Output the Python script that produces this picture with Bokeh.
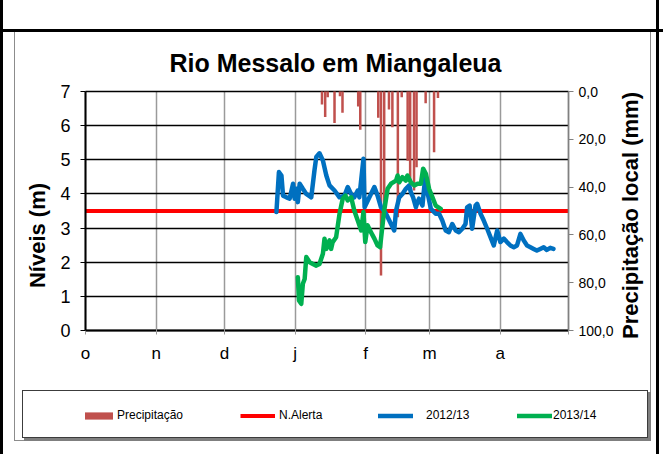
import math
from bokeh.plotting import figure
from bokeh.models import (Range1d, LinearAxis, FixedTicker, Legend, LegendItem, Label,
                          Grid)
from bokeh.embed import file_html
from bokeh.resources import INLINE

# ---------------- data ----------------
month_labels = ["o", "n", "d", "j", "f", "m", "a", ""]
month_start_days = [0, 31, 61, 92, 123, 151, 182, 212]   # days since 1 Oct
season_days = 212
alert_level = 3.5

blue_days = [83.8, 84.9, 86.0, 86.7, 88.2, 89.6, 91.1, 91.8, 92.5, 93.2, 94.0, 95.4,
             96.9, 99.1, 100.5, 101.3, 102.7, 104.2, 105.7, 107.1, 109.3, 111.5, 113.7,
             115.1, 116.6, 118.0, 119.5, 120.2, 122.0, 122.5, 124.6, 126.8, 128.2, 129.7,
             131.9, 134.1, 135.5, 136.3, 137.7, 139.1, 140.6, 142.1, 142.8, 143.8, 145.0,
             145.7, 146.4, 147.9, 149.1, 150.1, 151.6, 153.7, 155.2, 156.6, 158.1, 159.5,
             161.0, 162.5, 163.9, 165.4, 166.8, 167.5, 168.6, 169.7, 171.2, 171.9, 173.4,
             174.8, 176.3, 177.8, 179.2, 180.7, 182.1, 183.6, 185.0, 186.5, 188.0, 189.4,
             190.9, 192.3, 193.8, 195.3, 196.7, 198.1, 199.6, 201.1, 202.5, 204.0, 205.4]
blue_levels = [3.47, 4.64, 4.54, 3.95, 3.90, 3.86, 4.30, 3.86, 4.15, 3.76, 4.30, 4.15,
               4.00, 3.90, 4.69, 5.08, 5.19, 4.98, 4.54, 4.25, 4.10, 3.90, 3.95,
               4.20, 4.00, 3.90, 4.10, 3.90, 5.03, 3.61, 3.90, 4.20, 3.95, 3.61,
               3.42, 3.12, 2.93, 3.51, 3.90, 4.00, 4.15, 4.25, 4.05, 3.90, 3.61,
               3.76, 3.86, 3.66, 4.49, 4.05, 3.56, 3.42, 3.42, 3.22, 2.93, 2.88,
               3.12, 2.93, 2.88, 2.98, 3.12, 3.61, 3.66, 2.98, 3.66, 3.71, 3.42,
               3.22, 2.98, 2.73, 2.49, 2.93, 2.59, 2.69, 2.59, 2.49, 2.44, 2.49,
               2.83, 2.64, 2.49, 2.44, 2.39, 2.34, 2.39, 2.44, 2.36, 2.42, 2.39]

green_days = [93.2, 93.7, 94.7, 95.4, 96.2, 96.9, 98.4, 99.8, 101.3, 102.7, 104.2, 104.9,
              105.7, 107.1, 107.8, 108.5, 110.0, 111.5, 112.9, 114.1, 115.1, 116.6, 118.0,
              119.5, 121.0, 122.0, 122.8, 123.8, 125.3, 126.8, 128.2, 129.3, 130.1, 131.1,
              132.6, 134.1, 136.3, 137.0, 137.7, 139.1, 140.6, 141.3, 142.8, 144.3, 145.7,
              147.2, 148.2, 149.4, 150.8, 152.3, 153.7, 155.9]
green_levels = [1.56, 0.88, 0.78, 1.37, 1.51, 2.15, 2.00, 1.95, 1.90, 1.95, 2.25, 2.69,
                2.39, 2.64, 2.39, 2.59, 2.73, 3.42, 3.86, 3.95, 3.81, 3.90, 3.51,
                3.22, 2.93, 3.47, 2.59, 3.08, 2.88, 2.69, 2.49, 2.44, 2.93, 3.51,
                4.15, 4.30, 4.39, 4.54, 4.34, 4.49, 4.39, 4.54, 4.34, 4.25, 4.30,
                4.30, 4.74, 4.59, 4.15, 3.90, 3.66, 3.56]

rain_days = [103.8, 105.2, 106.3, 109.3, 111.7, 112.8, 119.7, 120.6, 128.5, 129.7, 131.1,
             133.2, 134.7, 137.1, 138.8, 141.4, 142.5, 144.2, 145.3, 149.3, 153.0, 154.7]
rain_mm = [5.4, 10.7, 2.4, 13.2, 2.0, 8.9, 6.3, 16.0, 11.0, 77.0, 53.0,
           7.5, 15.0, 52.6, 2.4, 29.0, 37.0, 41.4, 31.7, 4.9, 25.4, 2.7]

level_max = 7
rain_max = 100
level_ticks = [0, 1, 2, 3, 4, 5, 6, 7]
rain_ticks = [0, 20, 40, 60, 80, 100]

# ---------------- layout (pixels of the 663x454 picture) ----------------
W, H = 663, 454
PLOT_L, PLOT_R, PLOT_T, PLOT_B = 85, 568, 91, 330     # plot-area edges

dpx = (PLOT_R - PLOT_L) / season_days     # px per day
ypx = (PLOT_B - PLOT_T) / level_max       # px per metre
rpx = (PLOT_B - PLOT_T) / rain_max        # px per mm


def x_of(px):
    return (px - PLOT_L) / dpx


def y_of(py):
    return (PLOT_B - py) / ypx


SANS = "Liberation Sans"
C_RAIN = "#C0504D"
C_ALERT = "#FF0000"
C_BLUE = "#0070C0"
C_GREEN = "#00B050"


# decorative frame of the original chart image (CSS background, no layout effect)
def strip(color, x, y, w, h):
    return f"linear-gradient({color},{color}) {x}px {y}px / {w}px {h}px no-repeat"


frame_css = ", ".join([
    strip("#ffffff", 23, 391, 624, 46),    # legend box inside
    strip("#3c3c3c", 22, 390, 626, 48),    # legend box border
    strip("#7f7f7f", 24, 392, 627, 49),    # legend box shadow
    strip("#000000", 0, 29, 663, 3),       # top rule
    strip("#000000", 0, 0, 3, 454),        # outer left border
    strip("#000000", 656, 0, 3, 454),      # outer right border
    strip("#8c8c8c", 14, 32, 1, 409),      # inner chart frame, left
    strip("#8c8c8c", 650, 32, 1, 409),     # inner chart frame, right
    strip("#8c8c8c", 14, 440, 637, 1),     # inner chart frame, bottom
    "#ffffff",
])

p = figure(width=W, height=H, output_backend="svg", toolbar_location=None,
           title_location=None, x_axis_type=None, y_axis_type=None,
           x_range=Range1d(x_of(0), x_of(W)), y_range=Range1d(y_of(H), y_of(0)),
           min_border=0, min_border_left=0, min_border_right=0,
           min_border_top=0, min_border_bottom=0,
           outline_line_color=None, background_fill_color=None,
           border_fill_color=None, styles={"background": frame_css})

p.extra_y_ranges = {"rain": Range1d(rain_max + (H - PLOT_B) / rpx, -PLOT_T / rpx)}

# ---------------- grids ----------------
has_cross = "cross_bounds" in Grid.properties()
hgrid = Grid(dimension=1, ticker=FixedTicker(ticks=level_ticks), bounds=(0, level_max),
             grid_line_color="black", grid_line_width=1.5)
vgrid = Grid(dimension=0, ticker=FixedTicker(ticks=month_start_days),
             bounds=(0, season_days), grid_line_color="#9a9a9a", grid_line_width=1.5)
if has_cross:
    hgrid.cross_bounds = (0, season_days)
    vgrid.cross_bounds = (0, level_max)
    p.add_layout(vgrid, "center")
    p.add_layout(hgrid, "center")
else:
    p.segment(x0=month_start_days, x1=month_start_days, y0=0, y1=level_max,
              line_color="#9a9a9a", line_width=1.5)
    p.segment(x0=0, x1=season_days, y0=level_ticks, y1=level_ticks,
              line_color="black", line_width=1.5)

# ---------------- axes (pinned to the plot-area edges) ----------------
ya = LinearAxis(fixed_location=0, bounds=(0, level_max),
                ticker=FixedTicker(ticks=level_ticks))
ya.major_label_text_font = SANS
ya.major_label_text_font_size = "18px"
ya.major_label_text_color = "black"
ya.major_label_standoff = 10
ya.axis_line_color = "black"
ya.axis_line_width = 2
ya.major_tick_line_color = "black"
ya.major_tick_in = 0
ya.major_tick_out = 5
ya.minor_tick_line_color = None
p.add_layout(ya, "left")

xa = LinearAxis(fixed_location=0, bounds=(0, season_days),
                ticker=FixedTicker(ticks=month_start_days))
xa.major_label_overrides = {d: lab for d, lab in zip(month_start_days, month_labels)}
xa.major_label_text_font = SANS
xa.major_label_text_font_size = "17px"
xa.major_label_text_color = "black"
xa.major_label_standoff = 9
xa.axis_line_color = "black"
xa.axis_line_width = 2
xa.major_tick_line_color = "#9a9a9a"
xa.major_tick_in = 3
xa.major_tick_out = 4
xa.minor_tick_line_color = None
p.add_layout(xa, "below")

ra = LinearAxis(y_range_name="rain", fixed_location=season_days, bounds=(0, rain_max),
                ticker=FixedTicker(ticks=rain_ticks))
ra.major_label_overrides = {t: f"{t:.1f}".replace(".", ",") for t in rain_ticks}
ra.major_label_text_font = SANS
ra.major_label_text_font_size = "14px"
ra.major_label_text_color = "black"
ra.major_label_standoff = 5
ra.axis_line_color = "#808080"
ra.axis_line_width = 1.5
ra.major_tick_line_color = "#808080"
ra.major_tick_in = 0
ra.major_tick_out = 5
ra.minor_tick_line_color = None
p.add_layout(ra, "right")

# ---------------- data ----------------
r_rain = p.vbar(x=rain_days, top=rain_mm, bottom=0, width=1.1, y_range_name="rain",
                fill_color=C_RAIN, line_color=None)
r_alert = p.line(x=[0, season_days], y=[alert_level, alert_level], line_color=C_ALERT,
                 line_width=4)
r_blue = p.line(x=blue_days, y=blue_levels, line_color=C_BLUE, line_width=4.5,
                line_join="round", line_cap="round")
r_green = p.line(x=green_days, y=green_levels, line_color=C_GREEN, line_width=4.5,
                 line_join="round", line_cap="round")

# ---------------- texts ----------------
p.add_layout(Label(x=x_of(335), y=y_of(62), text="Rio Messalo em Miangaleua",
                   text_align="center", text_baseline="middle", text_font=SANS,
                   text_font_style="bold", text_font_size="25px", text_color="black"))
p.add_layout(Label(x=x_of(37), y=y_of(235), text="Níveis (m)", angle=math.pi / 2,
                   text_align="center", text_baseline="middle", text_font=SANS,
                   text_font_style="bold", text_font_size="22px", text_color="black"))
p.add_layout(Label(x=x_of(630), y=y_of(215), text="Precipitação local (mm)",
                   angle=math.pi / 2, text_align="center", text_baseline="middle",
                   text_font=SANS, text_font_style="bold", text_font_size="22px",
                   text_color="black"))

# ---------------- legend (one entry each, placed as in the reference) ----------------
legend_specs = [("Precipitação", r_rain, 81, 1),
                ("N.Alerta", r_alert, 240, 4),
                ("2012/13", r_blue, 378, 13),
                ("2013/14", r_green, 517, 1)]
for lab, rend, gx, standoff in legend_specs:
    lg = Legend(items=[LegendItem(label=lab, renderers=[rend])],
                location=(gx, H - 423), orientation="horizontal",
                glyph_width=35, glyph_height=9, label_standoff=standoff,
                label_text_font=SANS, label_text_font_size="12px",
                label_text_color="black", padding=0, margin=0,
                border_line_color=None, background_fill_alpha=0, label_height=16)
    p.add_layout(lg, "center")

open("out.html", "w").write(file_html(p, INLINE))
